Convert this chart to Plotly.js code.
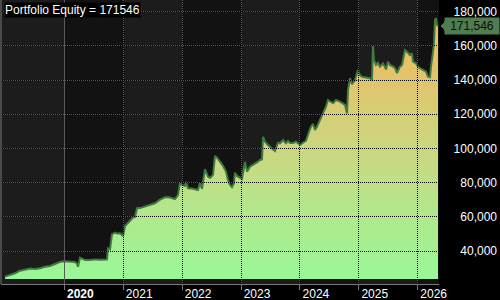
<!DOCTYPE html>
<html>
<head>
<meta charset="utf-8">
<script src="https://cdn.plot.ly/plotly-3.0.1.min.js"></script>
<style>
html,body{margin:0;padding:0;background:#000;}
#chart{width:500px;height:300px;}
.js-plotly-plot .shapelayer path{shape-rendering:crispEdges;}
</style>
</head>
<body>
<div id="chart"></div>
<script>
// ---- data ----
const years = [2018.993,2019.078,2019.163,2019.248,2019.333,2019.418,2019.503,2019.587,2019.672,2019.757,2019.842,2019.927,2019.995,
2020.097,2020.182,2020.216,2020.233,2020.267,2020.351,2020.436,2020.521,2020.606,2020.691,2020.725,2020.742,2020.776,2020.810,2020.827,2020.861,2020.895,2020.946,2020.980,2020.997,
2021.031,2021.082,2021.115,2021.166,2021.200,2021.234,2021.285,2021.370,2021.455,2021.540,2021.625,2021.710,2021.761,2021.829,2021.879,2021.930,2021.964,2021.998,
2022.049,2022.066,2022.100,2022.168,2022.219,2022.270,2022.304,2022.338,2022.389,2022.440,2022.474,2022.525,2022.559,2022.593,2022.643,2022.694,2022.745,2022.779,2022.813,2022.847,2022.881,2022.898,2022.932,2022.983,
2023.017,2023.068,2023.102,2023.153,2023.204,2023.238,2023.289,2023.323,2023.357,2023.374,2023.407,2023.458,2023.492,2023.543,2023.577,2023.628,2023.662,2023.713,2023.764,2023.798,2023.832,2023.883,2023.934,2023.968,
2024.002,2024.053,2024.104,2024.155,2024.189,2024.222,2024.256,2024.290,2024.341,2024.392,2024.443,2024.477,2024.528,2024.562,2024.613,2024.681,2024.766,2024.800,2024.817,2024.851,2024.885,2024.936,2024.986,
2025.020,2025.054,2025.139,2025.190,2025.224,2025.241,2025.258,2025.292,2025.326,2025.360,2025.411,2025.462,2025.496,2025.530,2025.581,2025.615,2025.649,2025.700,2025.734,2025.784,2025.818,2025.869,2025.903,2025.920,2025.971,
2026.005,2026.039,2026.090,2026.141,2026.175,2026.209,2026.226,2026.243,2026.260,2026.277,2026.294,2026.311,2026.328,2026.345];
const equity = [25000,26000,27000,28500,28900,29700,29500,29900,30800,31200,32400,33600,34000,
34000,33600,32500,30800,36100,34700,34700,35100,34900,34700,35000,41600,41000,49900,50000,50700,50200,50400,49500,48800,
54600,56500,57700,59500,59900,65000,65100,66000,66700,67900,70000,71400,71600,70800,70400,72700,79900,78600,
78000,80500,76700,76500,76100,75700,80000,76300,87800,83500,82700,84500,95600,94600,92300,89800,86400,81500,78600,77300,79600,85800,83900,82500,
82000,92300,86400,89300,90300,91300,92300,93200,93500,106800,103900,102000,101000,99100,98500,103300,103000,104900,103000,104500,103200,103200,103900,103000,
102000,103300,104500,109800,112700,114300,110800,112700,116600,120500,124400,128300,127300,126400,128300,127400,125400,120500,134200,141000,137500,140000,145800,
142900,141900,141600,141000,140000,160500,151700,148800,150100,147800,149700,146200,150700,148800,147800,146900,144000,147800,148800,157500,156500,154600,155600,150700,149700,
147800,146900,145800,144900,141900,141600,147800,154600,156500,161400,175100,176100,172200,171546];
const yearTicks = [2020, 2021, 2022, 2023, 2024, 2025, 2026];
const yearLabels = ['<b>2020</b>', '2021', '2022', '2023', '2024', '2025', '2026'];
const valueTicks = [40000, 60000, 80000, 100000, 120000, 140000, 160000, 180000];
const fillFloor = 23600;

// ---- view / style ----
const xRange = [2018.925, 2026.362];
const yRange = [20702, 186785];
const plotH = 284;
const lastValue = equity[equity.length - 1];
const lastYear = years[years.length - 1];
const firstYear = years[0];
const font = 'Arial, "Liberation Sans", sans-serif';
const gridGray = '#5c5c5c';
const axisGray = '#7a7a7a';
const bandDark = '#121212';

const traces = [
  {x: [firstYear, lastYear], y: [fillFloor, fillFloor], mode: 'lines',
   line: {width: 0, color: 'rgba(0,0,0,0)'}, hoverinfo: 'skip', showlegend: false},
  {x: years, y: equity, mode: 'lines', fill: 'tonexty',
   line: {color: '#3f7a3f', width: 2},
   fillgradient: {type: 'vertical', start: fillFloor, stop: 152000,
     colorscale: [[0, '#98f898'], [0.5, '#c4dc84'], [1, '#e8c068']]},
   hoverinfo: 'skip', showlegend: false}
];

const shapes = [];
// alternating year bands
for (let yr = 2020; yr <= 2026; yr += 2) {
  shapes.push({type: 'rect', layer: 'below', xref: 'x', yref: 'y domain',
    x0: yr, x1: Math.min(yr + 1, xRange[1]), y0: 0, y1: 1, fillcolor: bandDark, line: {width: 0}});
}
// black dotted grid overlay (visible on the fill)
const dyPx = 1 / plotH;
valueTicks.forEach(v => shapes.push({type: 'line', layer: 'above', xref: 'x domain', yref: 'y',
  x0: 1 / 438, x1: 1, y0: v, y1: v, line: {color: '#000', width: 1, dash: '1px,1px'}}));
yearTicks.slice(1).forEach(yr => shapes.push({type: 'line', layer: 'above', xref: 'x', yref: 'y domain',
  x0: yr, x1: yr, y0: 1 - dyPx, y1: 0, line: {color: '#000', width: 1, dash: '1px,1px'}}));
// solid 2020 line
shapes.push({type: 'line', layer: 'above', xref: 'x', yref: 'y domain', x0: 2020, x1: 2020, y0: 0, y1: 1,
  line: {color: '#5a5a5a', width: 1}});
// left border
shapes.push({type: 'line', layer: 'above', xref: 'x domain', yref: 'y domain', x0: 0, x1: 0, y0: 0, y1: 1,
  line: {color: '#4a4a4a', width: 2}});
// last value arrow
const unitsPerPx = (yRange[1] - yRange[0]) / plotH;
const pw = 499;
const tipX = (441 - 1) / pw, baseX = (446 - 1) / pw;
shapes.push({type: 'path', layer: 'above', xref: 'paper', yref: 'y',
  path: `M ${tipX},${lastValue} L ${baseX},${lastValue + 6.8 * unitsPerPx} L ${baseX},${lastValue - 6.8 * unitsPerPx} Z`,
  fillcolor: '#4f7d4f', line: {width: 0}});

const layout = {
  width: 500, height: 300,
  margin: {l: 1, r: 0, t: 0, b: 16, pad: 0},
  paper_bgcolor: '#000', plot_bgcolor: '#1c1c1c',
  showlegend: false,
  font: {family: font, size: 12, color: '#fff'},
  xaxis: {domain: [0, 438 / 499], range: xRange, type: 'linear',
    tickvals: yearTicks, ticktext: yearLabels,
    ticks: 'outside', ticklen: 5, tickcolor: axisGray, tickwidth: 1,
    showline: true, linecolor: axisGray, linewidth: 1,
    showgrid: true, gridcolor: gridGray, griddash: '1px,1px', gridwidth: 1,
    zeroline: false, tickfont: {family: font, size: 12, color: '#fff'},
    ticklabelshift: 16, ticklabelstandoff: -6, fixedrange: true},
  yaxis: {range: yRange, anchor: 'free', position: 1, side: 'left',
    tickvals: valueTicks, tickformat: ',d', ticks: '', showline: false,
    showgrid: true, gridcolor: gridGray, griddash: '1px,1px', gridwidth: 1,
    zeroline: false, tickfont: {family: font, size: 12, color: '#fff'},
    ticklabelstandoff: 3, fixedrange: true},
  yaxis2: {range: yRange, overlaying: 'y', anchor: 'x', side: 'right',
    tickvals: valueTicks, showticklabels: false, ticks: 'outside', ticklen: 4, tickcolor: axisGray,
    showline: true, linecolor: axisGray, linewidth: 1, showgrid: false, zeroline: false, fixedrange: true},
  shapes: shapes,
  annotations: [
    {xref: 'paper', yref: 'paper', x: 0, y: 1, xanchor: 'left', yanchor: 'top', xshift: 3, yshift: -2,
     text: 'Portfolio Equity = ' + lastValue, showarrow: false, bgcolor: '#000', borderpad: 0,
     font: {family: font, size: 12, color: '#fff'}},
    {xref: 'paper', yref: 'y', x: 1, y: lastValue, xanchor: 'right', yanchor: 'middle',
     text: lastValue.toLocaleString('en-US'), showarrow: false, bgcolor: '#4f7d4f', borderpad: 1,
     width: 52, align: 'center', font: {family: font, size: 12, color: '#0a0a0a'}}
  ]
};

Plotly.newPlot('chart', traces, layout, {staticPlot: true, displayModeBar: false});
</script>
</body>
</html>
